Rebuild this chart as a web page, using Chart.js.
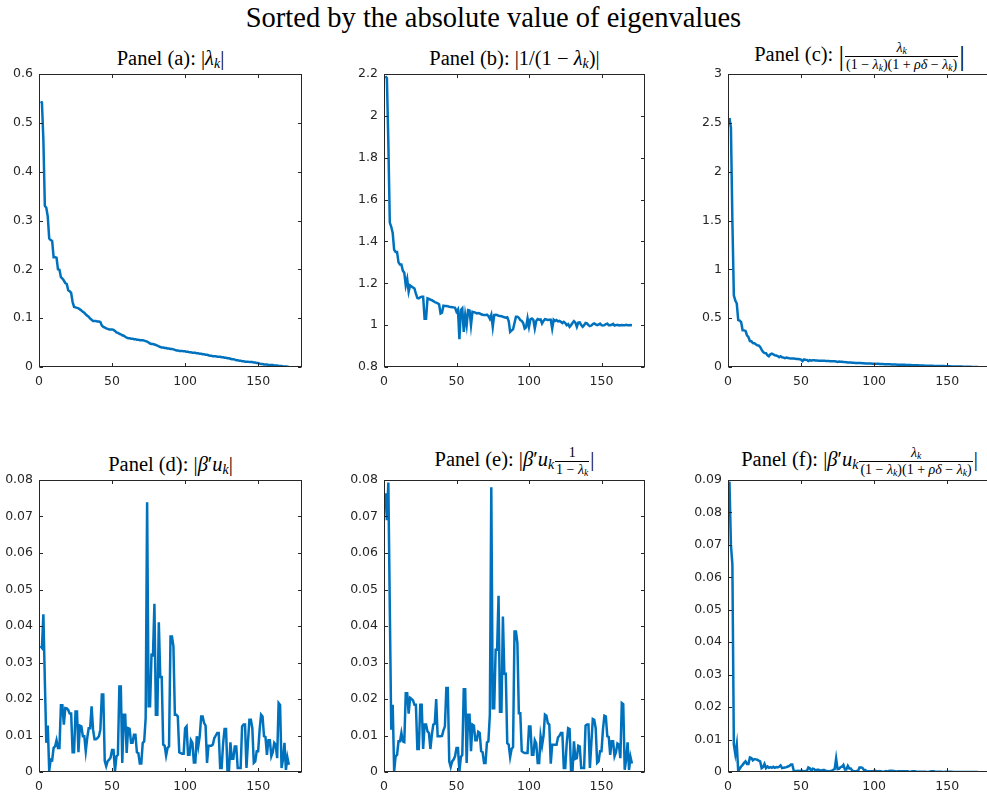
<!DOCTYPE html>
<html>
<head>
<meta charset="utf-8">
<script src="https://cdn.jsdelivr.net/npm/chart.js@4.4.1/dist/chart.umd.min.js"></script>
<style>
  html, body { margin: 0; padding: 0; background: #fff; width: 987px; height: 796px; overflow: hidden; }
  #stage { position: relative; width: 987px; height: 796px; overflow: hidden; font-family: "Liberation Serif", serif; color: #000; }
  canvas { position: absolute; }
  #suptitle { position: absolute; left: 0; top: 4px; width: 987px; text-align: center; font-size: 28.5px; line-height: 1; white-space: nowrap; }
  .ptitle { position: absolute; text-align: center; font-size: 20.5px; line-height: 1; white-space: nowrap; }
  .ptitle sub { font-size: 0.68em; vertical-align: -0.22em; line-height: 0; }
  .frac { display: inline-block; vertical-align: middle; text-align: center; font-size: 14px; line-height: 1.15; margin: 0 1px; }
  .frac .num { display: block; border-bottom: 1px solid #000; padding: 0 1px; }
  .frac .den { display: block; padding: 0 1px; }
  .big { font-size: 28px; vertical-align: -0.12em; }
  .frame { position: absolute; box-sizing: border-box; border: 1px solid #262626; pointer-events: none; }
  .frame span { position: absolute; background: #262626; }
</style>
</head>
<body>
<div id="stage">
<div id="suptitle">Sorted by the absolute value of eigenvalues</div>

<div class="ptitle" id="t-a">Panel (a): |<i>λ</i><sub><i>k</i></sub>|</div>
<div class="ptitle" id="t-b">Panel (b): |1/(1 − <i>λ</i><sub><i>k</i></sub>)|</div>
<div class="ptitle" id="t-c">Panel (c): <span class="big">|</span><span class="frac"><span class="num"><i>λ</i><sub><i>k</i></sub></span><span class="den">(1 − <i>λ</i><sub><i>k</i></sub>)(1 + <i>ρδ</i> − <i>λ</i><sub><i>k</i></sub>)</span></span><span class="big">|</span></div>
<div class="ptitle" id="t-d">Panel (d): |<i>β</i>′<i>u</i><sub><i>k</i></sub>|</div>
<div class="ptitle" id="t-e">Panel (e): |<i>β</i>′<i>u</i><sub><i>k</i></sub><span class="frac"><span class="num">1</span><span class="den">1 − <i>λ</i><sub><i>k</i></sub></span></span>|</div>
<div class="ptitle" id="t-f">Panel (f): |<i>β</i>′<i>u</i><sub><i>k</i></sub><span class="frac"><span class="num"><i>λ</i><sub><i>k</i></sub></span><span class="den">(1 − <i>λ</i><sub><i>k</i></sub>)(1 + <i>ρδ</i> − <i>λ</i><sub><i>k</i></sub>)</span></span>|</div>

<canvas id="c-a"></canvas>
<canvas id="c-b"></canvas>
<canvas id="c-c"></canvas>
<canvas id="c-d"></canvas>
<canvas id="c-e"></canvas>
<canvas id="c-f"></canvas>
</div>

<script>
// values, eigenvalue index k = 1..171

// Panel (a): |lambda_k|
var panelA = [
  0.543, 0.542, 0.465, 0.33, 0.326, 0.308, 0.263, 0.26, 0.258, 0.225,
  0.225, 0.224, 0.2, 0.199, 0.184, 0.181, 0.177, 0.172, 0.17, 0.157,
  0.155, 0.152, 0.133, 0.123, 0.122, 0.121, 0.12, 0.118, 0.116, 0.113,
  0.111, 0.108, 0.105, 0.103, 0.099, 0.097, 0.094, 0.094, 0.094, 0.093,
  0.093, 0.092, 0.085, 0.082, 0.081, 0.079, 0.078, 0.077, 0.077, 0.077,
  0.076, 0.074, 0.071, 0.07, 0.068, 0.067, 0.065, 0.064, 0.062, 0.06,
  0.059, 0.059, 0.058, 0.058, 0.057, 0.057, 0.056, 0.056, 0.055, 0.055,
  0.055, 0.054, 0.053, 0.052, 0.05, 0.048, 0.047, 0.047, 0.046, 0.045,
  0.044, 0.042, 0.041, 0.04, 0.04, 0.039, 0.039, 0.038, 0.038, 0.037,
  0.037, 0.036, 0.035, 0.034, 0.034, 0.033, 0.033, 0.033, 0.032, 0.032,
  0.031, 0.031, 0.03, 0.03, 0.029, 0.029, 0.029, 0.028, 0.028, 0.027,
  0.027, 0.026, 0.026, 0.025, 0.025, 0.024, 0.023, 0.023, 0.022, 0.022,
  0.022, 0.021, 0.021, 0.021, 0.02, 0.02, 0.019, 0.019, 0.018, 0.018,
  0.017, 0.016, 0.016, 0.015, 0.014, 0.014, 0.013, 0.013, 0.012, 0.012,
  0.011, 0.011, 0.011, 0.01, 0.01, 0.01, 0.009, 0.009, 0.008, 0.008,
  0.007, 0.006, 0.006, 0.005, 0.005, 0.005, 0.004, 0.004, 0.004, 0.004,
  0.003, 0.003, 0.003, 0.002, 0.002, 0.002, 0.001, 0.001, 0.001, 0.0005,
  0.0
];

// Panel (b): |1/(1 - lambda_k)|
var panelB = [
  2.19, 2.18, 1.87, 1.49, 1.47, 1.44, 1.36, 1.35, 1.35, 1.30,
  1.29, 1.29, 1.26, 1.25, 1.19, 1.22, 1.16, 1.19, 1.185, 1.18,
  1.175, 1.15, 1.13, 1.128, 1.133, 1.136, 1.136, 1.03, 1.03, 1.128,
  1.125, 1.122, 1.119, 1.115, 1.11, 1.108, 1.104, 1.1, 1.056, 1.06,
  1.093, 1.092, 1.091, 1.09, 1.088, 1.087, 1.086, 1.085, 1.083, 1.064,
  1.075, 0.933, 1.072, 1.08, 0.968, 1.048, 1.0, 1.072, 1.07, 1.0,
  1.064, 1.062, 1.06, 1.056, 1.058, 1.056, 1.052, 1.05, 1.048, 1.048,
  1.05, 1.044, 1.03, 1.05, 0.992, 1.048, 1.05, 1.049, 1.045, 1.044,
  1.043, 1.04, 1.038, 1.036, 1.038, 1.02, 0.968, 0.975, 0.98, 1.01,
  1.04, 1.04, 1.035, 1.024, 1.02, 1.01, 0.984, 0.99, 1.032, 0.992,
  1.028, 1.032, 1.025, 0.984, 1.02, 1.029, 1.026, 1.027, 1.008, 1.02,
  1.029, 1.027, 1.025, 1.026, 1.026, 0.984, 1.026, 1.02, 1.024, 1.018,
  1.02, 1.016, 1.01, 1.016, 1.01, 1.0, 1.005, 0.992, 1.0, 1.01,
  1.019, 1.012, 0.992, 1.012, 1.013, 1.0, 0.992, 1.0, 1.01, 1.008,
  1.0, 0.995, 0.998, 1.005, 1.008, 1.003, 1.0, 1.003, 1.007, 1.0,
  0.998, 1.0, 1.005, 1.007, 1.0, 1.0, 1.002, 1.006, 0.998, 1.0,
  1.002, 0.999, 1.0, 1.001, 1.0, 1.0, 1.002, 1.0, 1.0, 1.001,
  1.0
];

// Panel (c): |lambda_k / ((1 - lambda_k)(1 + rho*delta - lambda_k))|
var panelC = [
  2.55, 2.45, 1.5, 0.735, 0.68, 0.65, 0.48, 0.475, 0.46, 0.376,
  0.375, 0.37, 0.325, 0.307, 0.266, 0.264, 0.246, 0.244, 0.232, 0.222,
  0.22, 0.205, 0.178, 0.154, 0.143, 0.142, 0.12, 0.11, 0.13, 0.137,
  0.13, 0.12, 0.118, 0.112, 0.1, 0.11, 0.1, 0.096, 0.09, 0.096,
  0.093, 0.09, 0.088, 0.087, 0.086, 0.085, 0.083, 0.082, 0.08, 0.076,
  0.06, 0.078, 0.074, 0.072, 0.062, 0.07, 0.064, 0.07, 0.068, 0.066,
  0.066, 0.065, 0.065, 0.064, 0.064, 0.063, 0.062, 0.062, 0.061, 0.06,
  0.06, 0.059, 0.058, 0.056, 0.052, 0.055, 0.054, 0.053, 0.052, 0.05,
  0.049, 0.047, 0.046, 0.045, 0.044, 0.043, 0.04, 0.04, 0.041, 0.04,
  0.04, 0.039, 0.038, 0.037, 0.037, 0.036, 0.035, 0.035, 0.034, 0.034,
  0.033, 0.032, 0.032, 0.031, 0.03, 0.03, 0.029, 0.029, 0.028, 0.027,
  0.027, 0.026, 0.026, 0.025, 0.025, 0.024, 0.024, 0.023, 0.023, 0.022,
  0.022, 0.021, 0.021, 0.02, 0.02, 0.019, 0.019, 0.018, 0.018, 0.017,
  0.016, 0.016, 0.015, 0.015, 0.014, 0.014, 0.013, 0.013, 0.012, 0.012,
  0.011, 0.011, 0.011, 0.01, 0.01, 0.01, 0.009, 0.009, 0.008, 0.008,
  0.007, 0.007, 0.006, 0.006, 0.005, 0.005, 0.005, 0.004, 0.004, 0.004,
  0.003, 0.003, 0.003, 0.002, 0.002, 0.002, 0.001, 0.001, 0.001, 0.0005,
  0.0
];

// Panel (d): |beta' u_k|
var panelD = [
  0.0345, 0.034, 0.0432, 0.025, 0.008, 0.0127, 0.0003, 0.0034, 0.0032, 0.0066,
  0.007, 0.0087, 0.0066, 0.0066, 0.0183, 0.0183, 0.013, 0.0175, 0.0174, 0.017,
  0.016, 0.016, 0.0054, 0.0054, 0.0166, 0.0166, 0.0054, 0.0127, 0.0125, 0.0098,
  0.0098, 0.0057, 0.0093, 0.012, 0.012, 0.018, 0.0116, 0.009, 0.009, 0.0093,
  0.0098, 0.0116, 0.0212, 0.0212, 0.003, 0.0016, 0.003, 0.0034, 0.004, 0.006,
  0.006, 0.0002, 0.0043, 0.0047, 0.0234, 0.0234, 0.0025, 0.0157, 0.0157, 0.0052,
  0.012, 0.0118, 0.008, 0.008, 0.0102, 0.0102, 0.0054, 0.0052, 0.0023, 0.0023,
  0.008, 0.0084, 0.0148, 0.0739, 0.018, 0.018, 0.0321, 0.032, 0.0461, 0.0157,
  0.0157, 0.041, 0.026, 0.026, 0.0075, 0.0072, 0.0045, 0.0066, 0.007, 0.0371,
  0.0371, 0.0344, 0.0157, 0.0157, 0.0152, 0.0054, 0.0052, 0.005, 0.005, 0.012,
  0.0125, 0.0047, 0.0047, 0.0087, 0.008, 0.0026, 0.0026, 0.0098, 0.007, 0.0098,
  0.0152, 0.0152, 0.0134, 0.0127, 0.0025, 0.0072, 0.0072, 0.0072, 0.0075, 0.0093,
  0.01, 0.0107, 0.0107, 0.0011, 0.0011, 0.0078, 0.0118, 0.0118, 0.0002, 0.0002,
  0.0081, 0.0036, 0.0036, 0.007, 0.007, 0.0011, 0.0011, 0.0011, 0.0125, 0.013,
  0.013, 0.0011, 0.008, 0.0143, 0.0143, 0.012, 0.0025, 0.0029, 0.0057, 0.0057,
  0.0116, 0.0157, 0.0152, 0.0098, 0.0096, 0.0047, 0.0087, 0.0087, 0.0043, 0.0054,
  0.008, 0.0075, 0.0038, 0.0189, 0.0184, 0.0011, 0.0034, 0.008, 0.0006, 0.004,
  0.002
];

// Panel (e): |beta' u_k / (1 - lambda_k)|
var panelE = [
  0.0764, 0.069, 0.0793, 0.045, 0.0116, 0.0184, 0.0002, 0.0043, 0.0047, 0.0084,
  0.0084, 0.0107, 0.0084, 0.0082, 0.0216, 0.0216, 0.016, 0.0203, 0.02, 0.0196,
  0.0184, 0.0184, 0.0063, 0.0063, 0.0184, 0.0184, 0.0063, 0.013, 0.013, 0.0111,
  0.0107, 0.0063, 0.0102, 0.013, 0.0132, 0.02, 0.0098, 0.0098, 0.0098, 0.0099,
  0.0114, 0.0125, 0.023, 0.023, 0.0029, 0.0014, 0.0029, 0.0034, 0.0043, 0.0066,
  0.0066, 0.0002, 0.0041, 0.0047, 0.0227, 0.0227, 0.0025, 0.0157, 0.0157, 0.0057,
  0.013, 0.0127, 0.0087, 0.0087, 0.011, 0.0107, 0.0057, 0.0054, 0.0025, 0.0025,
  0.0081, 0.0084, 0.0157, 0.078, 0.0175, 0.0175, 0.0335, 0.0335, 0.0483, 0.0165,
  0.0165, 0.0426, 0.0269, 0.0269, 0.0079, 0.0075, 0.0041, 0.0063, 0.0068, 0.0385,
  0.0385, 0.0353, 0.0161, 0.0161, 0.0057, 0.0054, 0.0052, 0.0052, 0.0052, 0.0125,
  0.0125, 0.0047, 0.0047, 0.0087, 0.0078, 0.0025, 0.0025, 0.0098, 0.0072, 0.0098,
  0.0157, 0.0154, 0.0134, 0.013, 0.0023, 0.0075, 0.0075, 0.0075, 0.0075, 0.0095,
  0.0099, 0.0107, 0.0107, 0.0011, 0.0011, 0.0078, 0.012, 0.0118, 0.0002, 0.0002,
  0.0084, 0.0036, 0.0038, 0.0072, 0.007, 0.0011, 0.0011, 0.0011, 0.0127, 0.013,
  0.013, 0.0011, 0.0079, 0.0145, 0.0143, 0.012, 0.0025, 0.0029, 0.0057, 0.0057,
  0.0116, 0.0154, 0.0152, 0.0098, 0.0096, 0.0047, 0.0084, 0.0084, 0.0043, 0.0054,
  0.0078, 0.0075, 0.0038, 0.0189, 0.0186, 0.0006, 0.0034, 0.0081, 0.0006, 0.0041,
  0.0023
];

// Panel (f): |beta' u_k lambda_k / ((1 - lambda_k)(1 + rho*delta - lambda_k))|
var panelF = [
  0.0895, 0.07, 0.064, 0.0084, 0.0055, 0.0085, 0.0002, 0.001, 0.0017, 0.0022,
  0.0028, 0.0033, 0.0025, 0.0025, 0.0045, 0.0043, 0.0036, 0.004, 0.0039, 0.0038,
  0.0035, 0.0033, 0.0012, 0.0015, 0.0025, 0.0012, 0.0017, 0.0013, 0.0015, 0.0013,
  0.0016, 0.0013, 0.0015, 0.0014, 0.0016, 0.002, 0.0012, 0.0013, 0.0014, 0.0015,
  0.0017, 0.0019, 0.0023, 0.0023, 0.0004, 0.0003, 0.0003, 0.0004, 0.0003, 0.0004,
  0.0004, 0.0001, 0.0003, 0.0003, 0.0014, 0.0012, 0.0003, 0.001, 0.0009, 0.0003,
  0.0007, 0.0007, 0.0005, 0.0005, 0.0006, 0.0006, 0.0003, 0.0003, 0.0002, 0.0003,
  0.0004, 0.0007, 0.0009, 0.0042, 0.0009, 0.001, 0.0015, 0.0016, 0.0022, 0.0008,
  0.0008, 0.0019, 0.0011, 0.0011, 0.0004, 0.0003, 0.0002, 0.0003, 0.0003, 0.0014,
  0.0014, 0.0013, 0.0006, 0.0006, 0.0002, 0.0002, 0.0002, 0.0002, 0.0002, 0.0004,
  0.0004, 0.0002, 0.0002, 0.0003, 0.0002, 0.0001, 0.0001, 0.0003, 0.0002, 0.0003,
  0.0004, 0.0004, 0.0003, 0.0003, 0.0001, 0.0002, 0.0002, 0.0002, 0.0002, 0.0002,
  0.0002, 0.0002, 0.0002, 0.0001, 0.0001, 0.0002, 0.0002, 0.0002, 0.0001, 0.0001,
  0.0001, 0.0001, 0.0001, 0.0001, 0.0001, 0, 0, 0.0001, 0.0002, 0.0002,
  0.0002, 0, 0.0001, 0.0001, 0.0001, 0.0001, 0, 0, 0.0001, 0.0001,
  0.0001, 0.0001, 0.0001, 0, 0, 0, 0, 0, 0, 0,
  0, 0, 0, 0, 0, 0, 0, 0, 0, 0,
  0
];

// x positions: the eigenvalue index
var kIndex = panelA.map(function (_, i) { return i + 1; });

var xTicks = [0, 50, 100, 150];
var yRanges = {
  a: [0, 0.6, 0.1],
  b: [0.8, 2.2, 0.2],
  c: [0, 3, 0.5],
  d: [0, 0.08, 0.01],
  e: [0, 0.08, 0.01],
  f: [0, 0.09, 0.01]
};

// layout (pixels)
var LINE_COLOR = '#0072BD';
var AXIS_COLOR = '#262626';
var YW = 50, PT = 16, PR = 10, XH = 26, TICK = 3;
var plotBoxes = {
  a: { left: 39,  top: 74,  width: 263, height: 293 },
  b: { left: 384, top: 74,  width: 261, height: 293 },
  c: { left: 728, top: 74,  width: 263, height: 293 },
  d: { left: 39,  top: 480, width: 263, height: 292 },
  e: { left: 384, top: 480, width: 261, height: 292 },
  f: { left: 728, top: 480, width: 263, height: 292 }
};
var titleGap = { a: 6, b: 6, c: 1, d: 6, e: 2, f: 2 };
var seriesFor = { a: panelA, b: panelB, c: panelC, d: panelD, e: panelE, f: panelF };

var tickFont = { family: '"DejaVu Sans", sans-serif', size: 12.5 };
var stage = document.getElementById('stage');

function fmt(v) { return String(parseFloat(Number(v).toFixed(4))); }

// axes box with inward ticks on the canvas itself
var boxPlugin = {
  id: 'matlabBox',
  afterDraw: function (chart) {
    var ctx = chart.ctx, a = chart.chartArea;
    var xs = chart.scales.x, ys = chart.scales.y;
    var L = a.left + 0.5, T = a.top + 0.5, R = a.right - 0.5, B = a.bottom - 0.5;
    ctx.save();
    ctx.strokeStyle = AXIS_COLOR;
    ctx.lineWidth = 1;
    ctx.beginPath();
    ctx.moveTo(L, T); ctx.lineTo(R, T); ctx.lineTo(R, B); ctx.lineTo(L, B); ctx.closePath();
    xTicks.forEach(function (v) {
      var px = Math.round(xs.getPixelForValue(v)) + 0.5;
      ctx.moveTo(px, B); ctx.lineTo(px, B - TICK);
      ctx.moveTo(px, T); ctx.lineTo(px, T + TICK);
    });
    ys.ticks.forEach(function (t) {
      var py = Math.round(ys.getPixelForValue(t.value)) + 0.5;
      ctx.moveTo(L, py); ctx.lineTo(L + TICK, py);
      ctx.moveTo(R, py); ctx.lineTo(R - TICK, py);
    });
    ctx.stroke();
    ctx.restore();
  }
};

// the same box as a page element, placed from the chart's scales
function addFrame(chart, canvasLeft, canvasTop) {
  var a = chart.chartArea;
  var frame = document.createElement('div');
  frame.className = 'frame';
  frame.style.left = (canvasLeft + a.left) + 'px';
  frame.style.top = (canvasTop + a.top) + 'px';
  frame.style.width = a.width + 'px';
  frame.style.height = a.height + 'px';
  function mark(css) {
    var s = document.createElement('span');
    Object.keys(css).forEach(function (p) { s.style[p] = css[p]; });
    frame.appendChild(s);
  }
  xTicks.forEach(function (v) {
    var x = Math.round(chart.scales.x.getPixelForValue(v)) - a.left - 1;
    mark({ left: x + 'px', bottom: '0px', width: '1px', height: TICK + 'px' });
    mark({ left: x + 'px', top: '0px', width: '1px', height: TICK + 'px' });
  });
  chart.scales.y.ticks.forEach(function (t) {
    var y = Math.round(chart.scales.y.getPixelForValue(t.value)) - a.top - 1;
    mark({ top: y + 'px', left: '0px', height: '1px', width: TICK + 'px' });
    mark({ top: y + 'px', right: '0px', height: '1px', width: TICK + 'px' });
  });
  stage.appendChild(frame);
}

Object.keys(plotBoxes).forEach(function (key) {
  var box = plotBoxes[key];
  var canvas = document.getElementById('c-' + key);
  var w = YW + box.width + PR, h = PT + box.height + XH;
  var canvasLeft = box.left - YW, canvasTop = box.top - PT;
  canvas.width = w; canvas.height = h;
  canvas.style.width = w + 'px'; canvas.style.height = h + 'px';
  canvas.style.left = canvasLeft + 'px';
  canvas.style.top = canvasTop + 'px';

  var title = document.getElementById('t-' + key);
  title.style.left = box.left + 'px';
  title.style.width = box.width + 'px';
  title.style.bottom = (796 - box.top + titleGap[key]) + 'px';

  var yr = yRanges[key];
  var chart = new Chart(canvas.getContext('2d'), {
    type: 'line',
    data: {
      labels: kIndex,
      datasets: [{
        data: seriesFor[key],
        borderColor: LINE_COLOR,
        borderWidth: 2.5,
        pointRadius: 0,
        tension: 0,
        fill: false
      }]
    },
    options: {
      responsive: false,
      animation: false,
      devicePixelRatio: 1,
      layout: { padding: { top: PT, right: PR, left: 0, bottom: 0 } },
      plugins: { legend: { display: false }, tooltip: { enabled: false } },
      scales: {
        x: {
          type: 'linear', min: 0, max: 180,
          grid: { display: false, drawTicks: false },
          border: { display: false },
          afterBuildTicks: function (s) { s.ticks = xTicks.map(function (v) { return { value: v }; }); },
          ticks: { padding: 7, maxRotation: 0, autoSkip: false, font: tickFont, color: AXIS_COLOR, callback: fmt },
          afterFit: function (s) { s.height = XH; }
        },
        y: {
          type: 'linear', min: yr[0], max: yr[1],
          grid: { display: false, drawTicks: false },
          border: { display: false },
          ticks: { stepSize: yr[2], padding: 6, autoSkip: false, font: tickFont, color: AXIS_COLOR, callback: fmt },
          afterFit: function (s) { s.width = YW; }
        }
      }
    },
    plugins: [boxPlugin]
  });
  addFrame(chart, canvasLeft, canvasTop);
});
</script>
</body>
</html>
